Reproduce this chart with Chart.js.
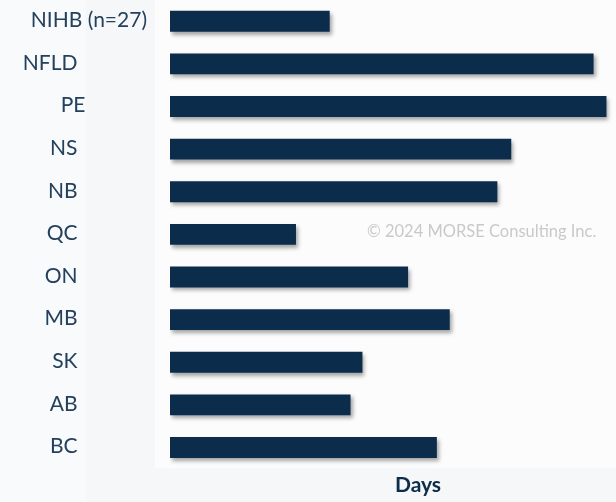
<!DOCTYPE html>
<html>
<head>
<meta charset="utf-8">
<script src="https://cdn.jsdelivr.net/npm/chart.js@4/dist/chart.umd.min.js"></script>
<style>
  html, body { margin: 0; padding: 0; overflow: hidden; background: #f6f7f9; }
  #wrap { position: relative; width: 666px; height: 502px; }
</style>
</head>
<body>
<div id="wrap"><canvas id="daysChart"></canvas></div>
<script>
// data (days)
const regions = ['NIHB (n=27)', 'NFLD', 'PE', 'NS', 'NB', 'QC', 'ON', 'MB', 'SK', 'AB', 'BC'];
const days = [16.1, 42.7, 44.0, 34.4, 33.0, 12.7, 24.0, 28.2, 19.4, 18.2, 26.9];
const axisMax = 50;

const NAVY = '#0b2d4b';
const LABEL_COLOR = '#23405d';
const FONT = 'Lato, "Open Sans", sans-serif';

// right edge of each category label (the original isn't aligned consistently)
const labelRight = { 'NIHB (n=27)': 147, 'PE': 85.5 };
const defaultLabelRight = 77.5;

const backdrop = {
    id: 'backdrop',
    beforeDraw(chart) {
        const ctx = chart.ctx;
        ctx.save();
        ctx.fillStyle = '#f6f7f9';
        ctx.fillRect(0, 0, chart.width, chart.height);
        ctx.fillStyle = '#f9fafb';
        ctx.fillRect(0, 0, 86, chart.height);
        ctx.fillStyle = '#fcfcfd';
        ctx.fillRect(155, 0, chart.width - 155, 468);
        // watermark
        ctx.fillStyle = '#c9c9c9';
        ctx.font = '16.5px ' + FONT;
        ctx.textAlign = 'left';
        ctx.textBaseline = 'middle';
        ctx.fillText('\u00A9 2024 MORSE Consulting Inc.', 367, 232);
        ctx.restore();
    },
    beforeDatasetsDraw(chart) {
        const ctx = chart.ctx;
        ctx.save();
        ctx.shadowColor = 'rgba(0, 0, 0, 0.35)';
        ctx.shadowBlur = 4;
        ctx.shadowOffsetX = 2;
        ctx.shadowOffsetY = 3;
    },
    afterDatasetsDraw(chart) {
        chart.ctx.restore();
    },
    afterDraw(chart) {
        const ctx = chart.ctx;
        const yScale = chart.scales.y;
        ctx.save();
        ctx.fillStyle = LABEL_COLOR;
        ctx.font = '21px ' + FONT;
        ctx.textAlign = 'right';
        ctx.textBaseline = 'middle';
        regions.forEach((label, i) => {
            const x = labelRight[label] !== undefined ? labelRight[label] : defaultLabelRight;
            ctx.fillText(label, x, yScale.getPixelForTick(i) - 1);
        });
        ctx.restore();
    }
};

new Chart(document.getElementById('daysChart'), {
    type: 'bar',
    data: {
        labels: regions,
        datasets: [{
            data: days,
            backgroundColor: NAVY,
            borderWidth: 0,
            barPercentage: 0.49,
            categoryPercentage: 1
        }]
    },
    options: {
        indexAxis: 'y',
        responsive: true,
        maintainAspectRatio: false,
        animation: false,
        layout: { padding: { left: 170, right: 0, top: -3, bottom: 4 } },
        plugins: {
            legend: { display: false },
            tooltip: { enabled: false }
        },
        scales: {
            y: { display: false },
            x: {
                min: 0,
                max: axisMax,
                ticks: { display: false },
                grid: { display: false, drawTicks: false },
                border: { display: false },
                title: {
                    display: true,
                    text: 'Days',
                    color: NAVY,
                    font: { family: FONT, size: 21, weight: 'bold' },
                    padding: { top: 4, bottom: 0 }
                }
            }
        }
    },
    plugins: [backdrop]
});
</script>
</body>
</html>
